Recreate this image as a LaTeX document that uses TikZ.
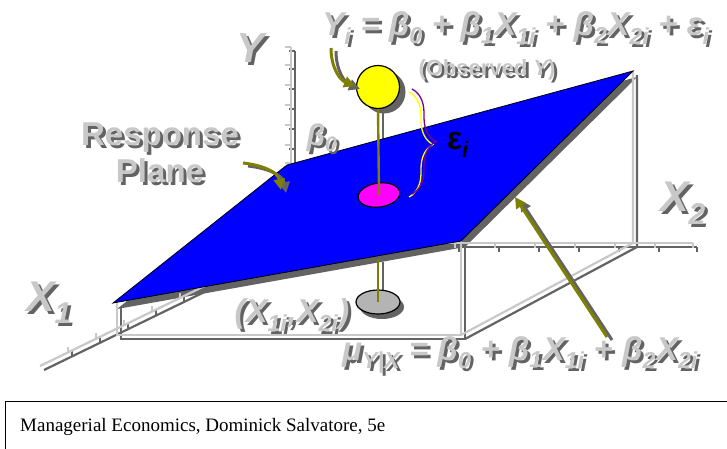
\documentclass[tikz,border=0pt]{standalone}
\usepackage{fontspec}
\setmainfont{Liberation Serif}
\setsansfont{Liberation Sans}
\usepackage{tikz}
\usetikzlibrary{positioning,arrows.meta,shapes.geometric,decorations.pathreplacing}

\definecolor{axlight}{HTML}{C8C8C8}
\definecolor{axdark}{HTML}{636363}
\definecolor{stemolive}{HTML}{808000}
\definecolor{braceviolet}{HTML}{800080}
\definecolor{planeblue}{RGB}{0,0,255}
\definecolor{obsyellow}{RGB}{255,255,0}
\definecolor{fitmagenta}{RGB}{255,0,255}
\definecolor{basegray}{HTML}{B4B4B4}

% gray label with a dark drop shadow: name, position, size, text
\newcommand{\grayword}[4]{%
  \node[font=\sffamily\bfseries\fontsize{#3}{\dimexpr#3pt*9/8\relax}\selectfont,
        text=axdark, inner sep=0pt, align=center, xshift=3pt, yshift=-3pt] (#1-sh) at (#2) {#4};
  \node[font=\sffamily\bfseries\fontsize{#3}{\dimexpr#3pt*9/8\relax}\selectfont,
        text=axlight, inner sep=0pt, align=center] (#1) at (#2) {#4};}

\begin{document}
\begin{tikzpicture}[x=1pt, y=-1pt,
    axisline/.style={line width=2.2pt},
    planeedge/.style={draw=black, line width=0.8pt},
    stem/.style={draw=stemolive, line width=2.4pt},
    pointer/.style={draw=stemolive, line width=3pt, -{Triangle[length=11pt,width=11pt]}},
    pointershade/.style={pointer, draw=axdark, transform canvas={xshift=5pt, yshift=-3pt}},
    dot/.style={draw=black, line width=1.2pt, inner sep=0pt}]
  \useasboundingbox (0,0) rectangle (727,448);

  % corners of the response plane
  \coordinate (pl-left) at (113,303);
  \coordinate (pl-back) at (287,165);
  \coordinate (pl-right) at (633,71);
  \coordinate (pl-front) at (461,241);

  % thickness of the plane
  \fill[axdark, transform canvas={xshift=4pt, yshift=-6pt}]
    (pl-left) -- (pl-back) -- (pl-right) -- (pl-front) -- cycle;

  % axes and frame, dark copy first
  \foreach \col/\dx in {axdark/4pt, axlight/0pt} {
    \begin{scope}[draw=\col, axisline, transform canvas={xshift=\dx, yshift=-\dx}]
      \draw (291,47) -- (291,244);
      \foreach \t in {47,65,85,105,125,145,163} \draw (285,\t) -- (291,\t);
      \draw (40,366) -- (291,244);
      \foreach \t in {0,...,6} \draw ({68+28*\t},{352-13.6*\t}) -- ++(0,-5);
      \draw (291,243) -- (693,243);
      \foreach \t in {455,495,535,575,615,655,693} \draw (\t,243) -- ++(0,5);
      \draw (117,303) -- (117,335) -- (461,335) -- (461,241);
      \draw (461,335) -- (633,243) -- (633,71);
    \end{scope}
  }

  \draw[axdark, line width=2.4pt] (383,100) -- (383,200);

  % response plane
  \draw[planeedge, fill=planeblue] (pl-left) -- (pl-back) -- (pl-right) -- (pl-front) -- cycle;

  % observed point, fitted point and base point
  \draw[axdark, line width=2.4pt] (383,262) -- (383,296);
  \fill[axdark] (384,92) circle (21.5);
  \node[dot, circle, fill=obsyellow, minimum size=43pt] (yobs) at (378,87) {};
  \node[dot, ellipse, fill=fitmagenta, minimum width=42pt, minimum height=24pt, rotate=8] (yfit) at (379,195) {};
  \fill[axdark] (382,307) ellipse (22 and 12);
  \node[dot, ellipse, fill=basegray, minimum width=44pt, minimum height=24pt] (xpt) at (378,302) {};
  \coordinate (under) at (378,259);
  \draw[stem] (yobs.south) -- (yfit.center);
  \draw[stem] (under) -- (xpt.center);

  % error brace
  \draw[obsyellow, line width=1.3pt, decorate, decoration={brace, amplitude=24pt}] (409,92) -- (409,197);
  \draw[braceviolet, line width=1.3pt, decorate, decoration={brace, amplitude=24pt}] (412,89) -- (412,194);
  \node[font=\sffamily\bfseries\fontsize{32}{32}\selectfont, inner sep=0pt] (eps) at (458,145) {ε\textsubscript{\itshape i}};

  % pointers
  \coordinate (yarr) at (331,48);
  \coordinate (yarr-tip) at (355,86);
  \coordinate (rparr) at (243,163);
  \coordinate (rparr-tip) at (281,190);
  \coordinate (muarr) at (607,337);
  \coordinate (muarr-tip) at (515,197);
  \draw[pointershade] (yarr) .. controls (331,68) and (340,80) .. (yarr-tip);
  \draw[pointer] (yarr) .. controls (331,68) and (340,80) .. (yarr-tip);
  \draw[pointershade] (rparr) .. controls (262,165) and (278,172) .. (rparr-tip);
  \draw[pointer] (rparr) .. controls (262,165) and (278,172) .. (rparr-tip);
  \draw[pointershade] (muarr) -- (muarr-tip);
  \draw[pointer] (muarr) -- (muarr-tip);

  % labels
  \grayword{ylabel}{251,48}{42}{\itshape Y}
  \grayword{x1label}{49,303}{43}{\itshape X\textsubscript{1}}
  \grayword{x2label}{683,203}{43}{\itshape X\textsubscript{2}}
  \grayword{plane}{160,153}{33}{Response\\Plane}
  \grayword{beta0}{322,138}{30}{\itshape β\textsubscript{0}}
  \grayword{obseq}{516,28}{33}{\itshape Y\textsubscript{i} = β\textsubscript{0} + β\textsubscript{1}X\textsubscript{1i} + β\textsubscript{2}X\textsubscript{2i} + ε\textsubscript{i}}
  \grayword{observed}{487,70}{22}{(Observed {\itshape Y})}
  \grayword{xpoint}{292,315}{33}{\itshape (X\textsubscript{1i},X\textsubscript{2i})}
  \grayword{fiteq}{520,355}{33}{\itshape μ\textsubscript{Y|X} = β\textsubscript{0} + β\textsubscript{1}X\textsubscript{1i} + β\textsubscript{2}X\textsubscript{2i}}

  % source line
  \draw[line width=1pt] (5,401) rectangle (740,470);
  \node[anchor=base west, font=\fontsize{19}{21}\selectfont, inner sep=0pt] (credit) at (20,431)
    {Managerial Economics, Dominick Salvatore, 5e};
\end{tikzpicture}
\end{document}
